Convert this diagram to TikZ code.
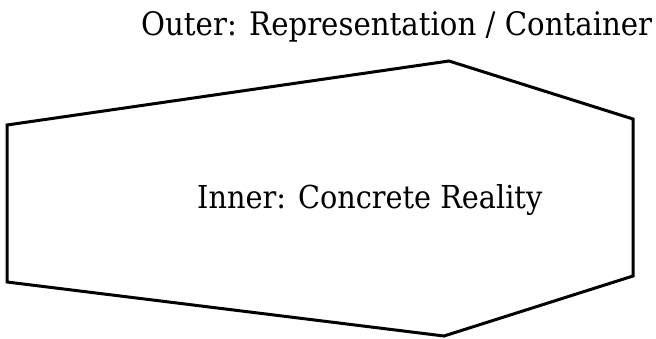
\documentclass[tikz,border=0pt]{standalone}
\usepackage{fontspec}
\setmainfont{DejaVu Serif}
\begin{document}
\begin{tikzpicture}[x=1pt,y=-1pt,
  outline/.style={draw=black,line width=3pt,line join=miter},
  lbl/.style={inner sep=0pt,anchor=base west}]
\useasboundingbox (0,0) rectangle (656,338);
\coordinate (tl) at (7,125);
\coordinate (tp) at (449,61);
\coordinate (tr) at (633,119);
\coordinate (br) at (633,276);
\coordinate (bp) at (444,336);
\coordinate (bl) at (7,282);
\draw[outline] (tl) -- (tp) -- (tr) -- (br) -- (bp) -- (bl) -- cycle;
\node[lbl] (outer) at (141,35) {\resizebox{511pt}{24pt}{Outer: Representation / Container}};
\node[lbl] (inner) at (197,208) {\resizebox{345pt}{24pt}{Inner: Concrete Reality}};
\end{tikzpicture}
\end{document}
